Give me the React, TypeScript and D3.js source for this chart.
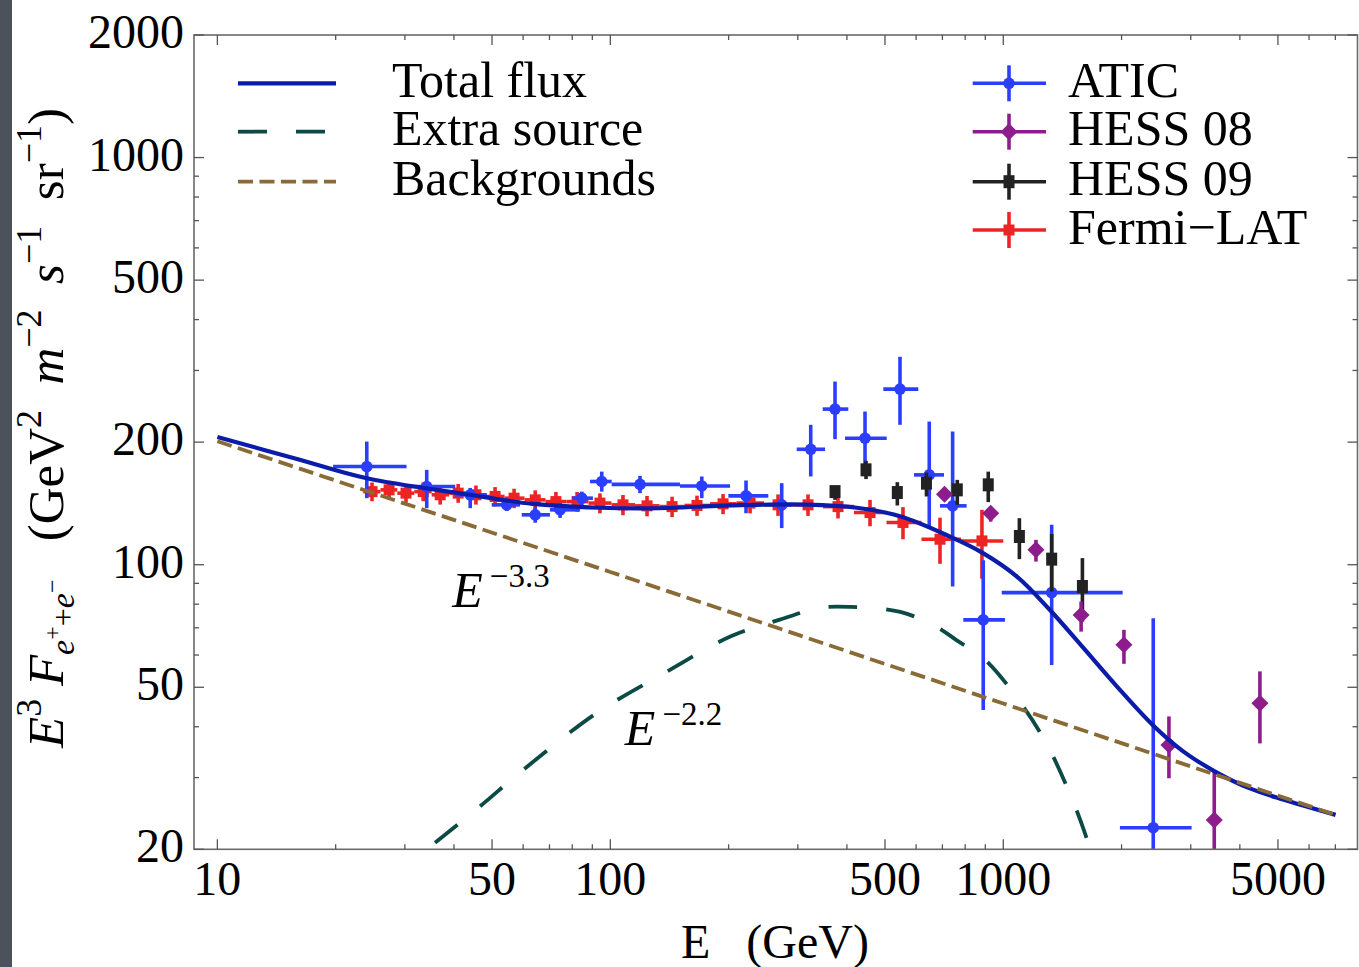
import React from "react";
import * as d3 from "d3";

// ---------- axes ----------
const xDomain = [8.72, 7970];
const yDomain = [20, 2000];
const xMajor = [10, 50, 100, 500, 1000, 5000];
const xMinor = [20, 30, 40, 60, 70, 80, 90, 200, 300, 400, 600, 700, 800, 900, 2000, 3000, 4000, 6000, 7000];
const yMajor = [20, 50, 100, 200, 500, 1000, 2000];
const yMinor = [30, 40, 60, 70, 80, 90, 300, 400, 600, 700, 800, 900];

// ---------- model curves ----------
const totalE = [10, 16.2, 24, 43, 63.5, 94, 126, 214, 316, 424, 546, 732, 888, 1085, 1313, 1591, 1940, 2400, 2858, 3470, 4210, 5150, 7010];
const totalFlux = [206, 181, 163, 149, 141, 138, 137.5, 140, 140.5, 138, 131.5, 117.2, 106.8, 93.4, 77.5, 62.8, 50.4, 40.4, 34.9, 31.0, 28.3, 26.5, 24.3];

const extraE = [35.8, 46.6, 59.9, 92.2, 136.8, 202, 270, 343, 408, 547, 676, 760, 899, 1130, 1313, 1505, 1593, 1680];
const extraFlux = [20.75, 25.5, 31.3, 43.2, 54.1, 66.6, 73.3, 78.4, 78.8, 76.6, 70.4, 65.3, 58.4, 44.5, 35.1, 26.2, 22.7, 19.5];

const bgE = [10, 100, 1000, 7000];
const bgFlux = [201, 96, 45.6, 24.3];

// ---------- data sets ----------
const fermiE = [24.75, 27.35, 30.2, 33.4, 36.9, 41.0, 45.5, 50.9, 56.9, 64.4, 72.7, 82.3, 94.1, 107.7, 124.0, 143.6, 166.2, 193.6, 226.8, 267.2, 318.5, 379.7, 458.0, 555.6, 690.2, 882.5];
const fermiFlux = [151.2, 152.7, 149.9, 151.2, 148.5, 149.9, 148.5, 147.1, 145.7, 144.3, 142.9, 142.9, 141.7, 140.3, 139.5, 138.9, 139.8, 141.1, 141.7, 140.3, 140.3, 138.9, 134.3, 127.0, 115.5, 114.4];
const fermiErr = [8, 8, 8, 8, 8, 8, 8, 8, 8, 8, 8, 8, 8, 8, 8, 8, 8, 8, 8, 8.5, 8.5, 9, 10, 11.5, 15, 22];
const fermiBinLo = [23.5, 26.0, 28.7, 31.7, 35.1, 38.9, 43.2, 48.1, 53.8, 60.5, 68.4, 77.4, 88.0, 100.7, 115.6, 133.4, 154.5, 179.4, 209.5, 246.2, 291.7, 347.8, 417.0, 504.5, 619.2, 780.5];
const fermiBinHi = [26.0, 28.7, 31.7, 35.1, 38.9, 43.2, 48.1, 53.8, 60.5, 68.4, 77.4, 88.0, 100.7, 115.6, 133.4, 154.5, 179.4, 209.5, 246.2, 291.7, 347.8, 417.0, 504.5, 619.2, 780.5, 1000];

const aticE = [24.0, 34.1, 44.0, 54.5, 64.4, 74.5, 84.6, 95.1, 119.0, 170.9, 221.5, 273.0, 323.6, 373.1, 444.8, 546.0, 648.1, 743.3, 889.2, 1328, 2408];
const aticFlux = [174.2, 155.6, 148.5, 140.3, 132.6, 136.4, 145.7, 160.1, 157.5, 156.1, 147.6, 140.3, 192.1, 241.1, 204.5, 270.0, 166.2, 139.5, 73.2, 85.4, 22.6];
const aticHi = [200.7, 171.0, 154.4, 145.5, 138.7, 141.9, 151.2, 169.3, 165.3, 164.7, 161.0, 158.6, 220.6, 281.8, 237.8, 324.1, 224.7, 212.4, 102.6, 125.3, 73.9];
const aticLo = [145.7, 137.7, 137.7, 135.5, 126.8, 130.3, 138.9, 151.2, 149.9, 145.7, 133.8, 123.0, 164.7, 203.4, 171.0, 220.6, 124.0, 88.4, 44.0, 56.7, 10];
const aticBinLo = [19.7, 30.3, 40.3, 49.9, 59.5, 70.2, 80.0, 88.8, 100.8, 150.4, 199.7, 258, 298.1, 347.1, 395.6, 495.2, 592.6, 690.2, 791.1, 990.8, 1981];
const aticBinHi = [30.3, 40.3, 48.5, 58.9, 70.2, 83.7, 90.3, 100.8, 150.4, 201.7, 252.4, 289, 351.8, 403.3, 505.1, 607.7, 706.5, 806.8, 1010, 2013, 3015];

const hess09E = [373.1, 447.4, 537.5, 637.6, 763.8, 915.8, 1099, 1328, 1590];
const hess09Flux = [151.2, 171.0, 150.4, 158.6, 152.7, 157.1, 117.3, 103.2, 88.4];
const hess09Hi = [155.8, 179.9, 159.5, 168.4, 161.6, 169.3, 130.1, 118.9, 103.8];
const hess09Lo = [144.3, 162.3, 139.8, 147.1, 140.3, 142.5, 103.2, 85.9, 72.5];

const hess08E = [708.6, 928.9, 1211, 1578, 2028, 2640, 3443, 4499];
const hess08Flux = [148.9, 133.8, 108.8, 75.3, 63.6, 36.1, 23.6, 45.7];
const hess08Hi = [152.5, 138.9, 115.1, 81.2, 69.2, 42.4, 31.0, 54.7];
const hess08Lo = [145.3, 127.6, 101.8, 68.5, 57.1, 29.9, 18.2, 36.4];

const curveLabels = ["Total flux", "Extra source", "Backgrounds"];
const dataLabels = ["ATIC", "HESS 08", "HESS 09", "Fermi\u2212LAT"];

// annotation anchors (E, flux)
const annot1 = { E: 39.6, v: 78.9, exp: "\u22123.3" };
const annot2 = { E: 108.9, v: 36.1, exp: "\u22122.2" };

// ---------- styles ----------
const FONT = "'Liberation Serif', 'Times New Roman', serif";
const C_TOTAL = "#0b1caa";
const C_EXTRA = "#0c4a45";
const C_BG = "#8a6a36";
const C_ATIC = "#2b3eff";
const C_H08 = "#8d1d8d";
const C_H09 = "#222222";
const C_FERMI = "#ee2424";

const L = 194, R = 1357.5, T = 35, B = 849.3;

function Marker({ kind, cx, cy, color }: { kind: string; cx: number; cy: number; color: string }) {
  if (kind === "circle") return <circle cx={cx} cy={cy} r={5.8} fill={color} />;
  if (kind === "diamond")
    return <path d={`M${cx},${cy - 8.5}L${cx + 8.5},${cy}L${cx},${cy + 8.5}L${cx - 8.5},${cy}Z`} fill={color} />;
  if (kind === "squareTall") return <rect x={cx - 5.5} y={cy - 6.5} width={11} height={13} fill={color} />;
  return <rect x={cx - 5.5} y={cy - 5.5} width={11} height={11} fill={color} />;
}

export default function App() {
  const x = d3.scaleLog().domain(xDomain).range([L, R]);
  const y = d3.scaleLog().domain(yDomain).range([B, T]);

  const line = d3
    .line<[number, number]>()
    .x((d) => x(d[0]))
    .y((d) => y(d[1]))
    .curve(d3.curveCatmullRom.alpha(0.5));

  const totalPath = line(totalE.map((e, i) => [e, totalFlux[i]]) as [number, number][]) || "";
  const extraPath = line(extraE.map((e, i) => [e, extraFlux[i]]) as [number, number][]) || "";
  const bgPath =
    d3
      .line<[number, number]>()
      .x((d) => x(d[0]))
      .y((d) => y(d[1]))(bgE.map((e, i) => [e, bgFlux[i]]) as [number, number][]) || "";

  const sw = 3.6;

  const errBars = (
    E: number[],
    v: number[],
    lo: number[],
    hi: number[],
    bLo: number[] | null,
    bHi: number[] | null,
    color: string,
    kind: string,
    key: string
  ) =>
    E.map((e, i) => (
      <g key={key + i}>
        <line x1={x(e)} x2={x(e)} y1={y(Math.max(lo[i], 1))} y2={y(hi[i])} stroke={color} strokeWidth={sw} />
        {bLo && bHi ? (
          <line x1={x(bLo[i])} x2={x(bHi[i])} y1={y(v[i])} y2={y(v[i])} stroke={color} strokeWidth={sw} />
        ) : null}
        <Marker kind={kind} cx={x(e)} cy={y(v[i])} color={color} />
      </g>
    ));

  const tickStroke = "#555";
  const ticks: JSX.Element[] = [];
  xMajor.concat(xMinor).forEach((t, i) => {
    const len = xMajor.includes(t) ? 10 : 5;
    ticks.push(<line key={"xb" + i} x1={x(t)} x2={x(t)} y1={B} y2={B - len} stroke={tickStroke} strokeWidth={1.3} />);
    ticks.push(<line key={"xt" + i} x1={x(t)} x2={x(t)} y1={T} y2={T + len} stroke={tickStroke} strokeWidth={1.3} />);
  });
  yMajor.concat(yMinor).forEach((t, i) => {
    const len = yMajor.includes(t) ? 10 : 5;
    ticks.push(<line key={"yl" + i} x1={L} x2={L + len} y1={y(t)} y2={y(t)} stroke={tickStroke} strokeWidth={1.3} />);
    ticks.push(<line key={"yr" + i} x1={R} x2={R - len} y1={y(t)} y2={y(t)} stroke={tickStroke} strokeWidth={1.3} />);
  });

  const leftRows = [83.3, 131.7, 181.7];
  const rightRows = [83.3, 131.7, 181.7, 230];
  const rightColors = [C_ATIC, C_H08, C_H09, C_FERMI];
  const rightKinds = ["circle", "diamond", "squareTall", "square"];
  const leftStyles = [
    { c: C_TOTAL, dash: undefined as string | undefined, w: 4.2 },
    { c: C_EXTRA, dash: "29 29", w: 3.8 },
    { c: C_BG, dash: "15 6.5", w: 3.8 },
  ];

  const SUP = 36;
  const UP = -22;

  return (
    <svg
      width={1359}
      height={967}
      style={{ position: "absolute", left: 0, top: 0, background: "#fff" }}
      fontFamily={FONT}
    >
      <rect x={0} y={0} width={1359} height={967} fill="#ffffff" />
      <rect x={0} y={0} width={12} height={967} fill="#4c515b" />
      <defs>
        <clipPath id="plotclip">
          <rect x={L} y={T} width={R - L} height={B - T} />
        </clipPath>
      </defs>

      {/* data */}
      <g clipPath="url(#plotclip)">
        {errBars(fermiE, fermiFlux, fermiFlux.map((v, i) => v - fermiErr[i]), fermiFlux.map((v, i) => v + fermiErr[i]), fermiBinLo, fermiBinHi, C_FERMI, "square", "f")}
        {errBars(aticE, aticFlux, aticLo, aticHi, aticBinLo, aticBinHi, C_ATIC, "circle", "a")}
        {errBars(hess09E, hess09Flux, hess09Lo, hess09Hi, null, null, C_H09, "squareTall", "h9")}
        {errBars(hess08E, hess08Flux, hess08Lo, hess08Hi, null, null, C_H08, "diamond", "h8")}
        <path d={totalPath} fill="none" stroke={C_TOTAL} strokeWidth={4.2} />
        <path d={extraPath} fill="none" stroke={C_EXTRA} strokeWidth={3.8} strokeDasharray="29 29" />
        <path d={bgPath} fill="none" stroke={C_BG} strokeWidth={3.8} strokeDasharray="15 6.5" />
      </g>

      {/* frame */}
      <rect x={L} y={T} width={R - L} height={B - T} fill="none" stroke="#6a6a6a" strokeWidth={1.6} />
      {ticks}

      {/* tick labels */}
      {xMajor.map((t) => (
        <text key={"xl" + t} x={x(t)} y={895} textAnchor="middle" fontSize={48} fill="#000">
          {t}
        </text>
      ))}
      {yMajor.map((t) => (
        <text key={"yl" + t} x={184} y={y(t) + 13} textAnchor="end" fontSize={48} fill="#000">
          {t}
        </text>
      ))}

      {/* axis titles */}
      <text x={681} y={958} fontSize={48} style={{ whiteSpace: "pre" }}>
        {"E   (GeV)"}
      </text>
      <text
        transform="translate(63,428) rotate(-90)"
        textAnchor="middle"
        fontSize={51}
        style={{ whiteSpace: "pre" }}
      >
        <tspan fontStyle="italic">E</tspan>
        <tspan fontSize={SUP} dy={UP}>3</tspan>
        <tspan dy={-UP}> </tspan>
        <tspan fontStyle="italic">F</tspan>
        <tspan fontSize={34} fontStyle="italic" dy={11}>e</tspan>
        <tspan fontSize={24} dy={-14}>+</tspan>
        <tspan fontSize={32} dy={14}>+</tspan>
        <tspan fontSize={34} fontStyle="italic">e</tspan>
        <tspan fontSize={24} dy={-14}>{"\u2212"}</tspan>
        <tspan dy={3}>{"   (GeV"}</tspan>
        <tspan fontSize={SUP} dy={UP}>2</tspan>
        <tspan dy={-UP}>{"  "}</tspan>
        <tspan fontStyle="italic">m</tspan>
        <tspan fontSize={SUP} dy={UP}>{"\u22122"}</tspan>
        <tspan dy={-UP}>{"  "}</tspan>
        <tspan fontStyle="italic">s</tspan>
        <tspan fontSize={SUP} dy={UP}>{"\u22121"}</tspan>
        <tspan dy={-UP}>{"  sr"}</tspan>
        <tspan fontSize={SUP} dy={UP}>{"\u22121"}</tspan>
        <tspan dy={-UP}>)</tspan>
      </text>

      {/* annotations */}
      {[annot1, annot2].map((a, i) => (
        <text key={"an" + i} x={x(a.E)} y={y(a.v)} fontSize={50}>
          <tspan fontStyle="italic">E</tspan>
          <tspan fontSize={33} dx={7} dy={-20}>{a.exp}</tspan>
        </text>
      ))}

      {/* left legend */}
      {curveLabels.map((lab, i) => (
        <g key={"ll" + i}>
          <line x1={238} x2={336} y1={leftRows[i]} y2={leftRows[i]} stroke={leftStyles[i].c} strokeWidth={leftStyles[i].w} strokeDasharray={leftStyles[i].dash} />
          <text x={392} y={leftRows[i] + 13.5} fontSize={50}>
            {lab}
          </text>
        </g>
      ))}

      {/* right legend */}
      {dataLabels.map((lab, i) => (
        <g key={"rl" + i}>
          <line x1={972.7} x2={1046} y1={rightRows[i]} y2={rightRows[i]} stroke={rightColors[i]} strokeWidth={sw} />
          <line x1={1009} x2={1009} y1={rightRows[i] - 18} y2={rightRows[i] + 18} stroke={rightColors[i]} strokeWidth={sw} />
          <Marker kind={rightKinds[i]} cx={1009} cy={rightRows[i]} color={rightColors[i]} />
          <text x={1068} y={rightRows[i] + 13.5} fontSize={50}>
            {lab}
          </text>
        </g>
      ))}
    </svg>
  );
}
